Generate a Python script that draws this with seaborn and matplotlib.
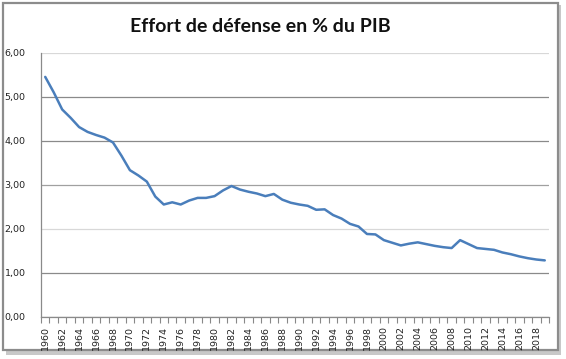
import matplotlib
matplotlib.use("Agg")
import matplotlib.pyplot as plt
import seaborn as sns
import pandas as pd
import numpy as np
from matplotlib.patches import Rectangle
from matplotlib.ticker import FixedLocator, FuncFormatter

years = list(range(1960, 2020))
effort = [5.45, 5.10, 4.71, 4.52, 4.31, 4.20, 4.13, 4.07, 3.96, 3.66,
          3.33, 3.21, 3.07, 2.73, 2.55, 2.60, 2.55, 2.64, 2.70, 2.70,
          2.74, 2.87, 2.97, 2.89, 2.84, 2.80, 2.74, 2.79, 2.66, 2.59,
          2.55, 2.52, 2.43, 2.44, 2.31, 2.23, 2.11, 2.05, 1.88, 1.87,
          1.74, 1.68, 1.62, 1.66, 1.69, 1.65, 1.61, 1.58, 1.56, 1.74,
          1.65, 1.56, 1.54, 1.52, 1.46, 1.42, 1.37, 1.33, 1.30, 1.28]
title = "Effort de défense en % du PIB"
y_ticks = [0, 1, 2, 3, 4, 5, 6]
x_labels = list(range(1960, 2020, 2))

df = pd.DataFrame({"annee": years, "effort": effort})

sns.set_theme(style="white")
W, H = 566, 359
fig = plt.figure(figsize=(W / 100, H / 100), dpi=100)
fig.patch.set_facecolor("white")

# chart-area border with shadow
fig.patches.append(Rectangle((6 / W, 1 - 355 / H), 555 / W, 350 / H, transform=fig.transFigure,
                             facecolor="#c8c8c8", edgecolor="none", zorder=0))
fig.patches.append(Rectangle((3 / W, 1 - 350 / H), 555 / W, 347 / H, transform=fig.transFigure,
                             facecolor="white", edgecolor="#8c8c8c", linewidth=1.6, zorder=1))

ax = fig.add_axes([41 / W, 1 - 316.7 / H, 508 / W, (316.7 - 52.7) / H], zorder=2)
ax.set_facecolor("none")

sns.lineplot(data=df, x="annee", y="effort", ax=ax, color="#4a7ebb", linewidth=1.8, zorder=3)

ax.set_xlim(1959.5, 2019.5)
ax.set_ylim(0, 6)
ax.set_xlabel("")
ax.set_ylabel("")

ax.yaxis.set_major_locator(FixedLocator(y_ticks))
ax.yaxis.set_major_formatter(FuncFormatter(lambda v, p: f"{v:.2f}".replace(".", ",")))
ax.xaxis.set_major_locator(FixedLocator(x_labels))
ax.xaxis.set_minor_locator(FixedLocator(np.arange(1959.5, 2020, 1)))
ax.tick_params(axis="x", which="major", length=0, pad=7, labelsize=6.8, labelrotation=90, colors="#222222")
ax.tick_params(axis="x", which="minor", length=4, width=0.8, color="#888888", direction="out")
ax.tick_params(axis="y", which="major", length=3, width=0.8, color="#888888", labelsize=6.8,
               pad=8, colors="#222222", direction="out")
ax.tick_params(axis="y", colors="#888888", labelcolor="#222222")
ax.tick_params(axis="x", which="minor", bottom=True)
for lab in ax.get_xticklabels():
    lab.set_va("top")

ax.grid(True, axis="y", linewidth=0.9)
grid_cols = ["#888888", "#8a8a8a", "#d8d8d8", "#a0a0a0", "#8a8a8a", "#8a8a8a", "#d8d8d8"]
for gl, c in zip(ax.get_ygridlines(), grid_cols):
    gl.set_color(c)
ax.grid(False, axis="x")

for s in ["top", "right"]:
    ax.spines[s].set_visible(False)
for s in ["left", "bottom"]:
    ax.spines[s].set_visible(True)
    ax.spines[s].set_color("#8a8a8a")
    ax.spines[s].set_linewidth(0.9)

fig.text(260.5 / W, 1 - 27 / H, title, ha="center", va="center", fontsize=14,
         fontweight="bold", family=["Lato", "DejaVu Sans"], color="#111111", zorder=5)

fig.savefig("out.png", dpi=100)
